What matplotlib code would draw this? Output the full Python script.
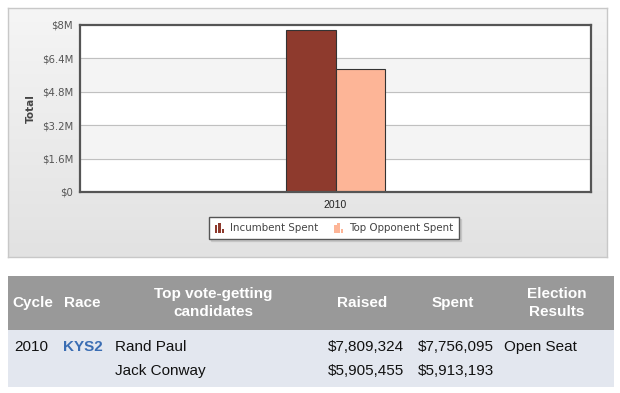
import matplotlib.pyplot as plt
import numpy as np
from matplotlib.patches import Rectangle
from matplotlib.legend_handler import HandlerBase
from matplotlib.colors import LinearSegmentedColormap

# chart data
years = ["2010"]
incumbent_spent = [7756095]
opponent_spent = [5913193]
series_names = ["Incumbent Spent", "Top Opponent Spent"]
series_colors = ["#8e3a2d", "#fdb597"]
y_ticks = [0, 1.6e6, 3.2e6, 4.8e6, 6.4e6, 8e6]

# table data
table_header = ["Cycle", "Race", "Top vote-getting\ncandidates", "Raised", "Spent", "Election\nResults"]
cycle = "2010"
race = "KYS2"
candidates = ["Rand Paul", "Jack Conway"]
raised = ["$7,809,324", "$5,905,455"]
spent = ["$7,756,095", "$5,913,193"]
result = ["Open Seat", ""]

W, H = 620, 393


def frac(x0, y0, x1, y1):
    # pixel box (top-left origin) -> figure fraction rect
    return [x0 / W, 1 - y1 / H, (x1 - x0) / W, (y1 - y0) / H]


class BarIconHandler(HandlerBase):
    """Small three-bar icon like the original legend."""
    def create_artists(self, legend, orig_handle, xdescent, ydescent,
                       width, height, fontsize, trans):
        color = orig_handle.get_facecolor()
        bw = width / 4.0
        arts = []
        for i, h in enumerate([0.75, 1.0, 0.4]):
            r = Rectangle((-xdescent + i * 1.4 * bw, -ydescent - 0.5),
                          bw, (height + 1) * h, facecolor=color, edgecolor='none',
                          transform=trans)
            arts.append(r)
        return arts


fig = plt.figure(figsize=(W / 100, H / 100), dpi=100)

# chart panel with vertical gradient
bg = fig.add_axes(frac(8, 8, 607, 257))
grad = np.linspace(0, 1, 256).reshape(-1, 1)
bg.imshow(grad, aspect='auto', cmap=LinearSegmentedColormap.from_list('g', ['#f5f5f5', '#e2e2e2']),
          extent=[0, 1, 0, 1], origin='upper')
bg.set_xticks([])
bg.set_yticks([])
for s in bg.spines.values():
    s.set_color('#c8c8c8')
    s.set_linewidth(1)

ax = fig.add_axes(frac(80, 25, 591, 192))
ax.set_facecolor('white')
for i in range(len(y_ticks) - 1):
    if i % 2 == 1:
        ax.axhspan(y_ticks[i], y_ticks[i + 1], color='#f4f4f4', zorder=0)
for t in y_ticks[1:-1]:
    ax.axhline(t, color='#c0c0c0', linewidth=0.8, zorder=1)

x = np.arange(len(years))
bw = 0.096
b1 = ax.bar(x - bw / 2, incumbent_spent, bw, color=series_colors[0],
            edgecolor='#333333', linewidth=0.8, zorder=2, label=series_names[0])
b2 = ax.bar(x + bw / 2, opponent_spent, bw, color=series_colors[1],
            edgecolor='#333333', linewidth=0.8, zorder=2, label=series_names[1])

ax.set_xlim(-0.5, 0.5)
ax.set_ylim(0, 8e6)
ax.set_yticks(y_ticks)
ax.set_yticklabels(["$0" if v == 0 else f"${v / 1e6:g}M" for v in y_ticks],
                   fontsize=7.3, color='#555555', family='DejaVu Sans')
ax.set_xticks(x)
ax.set_xticklabels(years, fontsize=7.5, color='#222222', family='Liberation Sans')
ax.tick_params(length=0, pad=5)
ax.tick_params(axis='x', pad=6)
for s in ax.spines.values():
    s.set_color('#555555')
    s.set_linewidth(1.6)
ax.set_ylabel("Total", fontsize=7.5, fontweight='bold', color='#444444', labelpad=4)

leg = ax.legend(handles=[b1.patches[0], b2.patches[0]], labels=series_names,
                handler_map={Rectangle: BarIconHandler()},
                loc='upper left', bbox_to_anchor=((209 - 80) / 511, -(217 - 192) / 167),
                ncol=2, frameon=True, fancybox=False,
                shadow={'ox': 1.5, 'oy': -1.5, 'color': '#bbbbbb', 'alpha': 0.6},
                prop={'family': 'DejaVu Sans', 'size': 7.4}, handlelength=0.9,
                handleheight=0.9, handletextpad=0.5, columnspacing=1.6, borderpad=0.6,
                borderaxespad=0)
leg.get_frame().set_edgecolor('#555555')
leg.get_frame().set_linewidth(1)
for t in leg.get_texts():
    t.set_color('#444444')

# table below chart
tab = fig.add_axes([0, 0, 1, 1])
tab.set_xlim(0, W)
tab.set_ylim(H, 0)
tab.axis('off')
tab.add_patch(Rectangle((8, 276), 606, 54, facecolor='#999999', edgecolor='none'))
tab.add_patch(Rectangle((8, 330), 606, 57, facecolor='#e3e7ef', edgecolor='none'))

hdr = dict(color='white', fontsize=11, fontweight='bold', family='Liberation Sans',
           va='center', linespacing=1.4)
tab.text(12, 303, table_header[0], ha='left', **hdr)
tab.text(64, 303, table_header[1], ha='left', **hdr)
tab.text(213, 303, table_header[2], ha='center', multialignment='center', **hdr)
tab.text(362, 303, table_header[3], ha='center', **hdr)
tab.text(453, 303, table_header[4], ha='center', **hdr)
tab.text(557, 303, table_header[5], ha='center', multialignment='center', **hdr)

cell = dict(color='#111111', fontsize=11, family='Liberation Sans', va='center')
row_y = [347, 371]
tab.text(14, row_y[0], cycle, ha='left', **cell)
tab.text(63, row_y[0], race, ha='left', color='#3a6db3', fontsize=11, fontweight='bold',
         family='Liberation Sans', va='center')
for i, y in enumerate(row_y):
    tab.text(115, y, candidates[i], ha='left', **cell)
    tab.text(404, y, raised[i], ha='right', **cell)
    tab.text(494, y, spent[i], ha='right', **cell)
    tab.text(504, y, result[i], ha='left', **cell)

fig.savefig("out.png", dpi=100)
